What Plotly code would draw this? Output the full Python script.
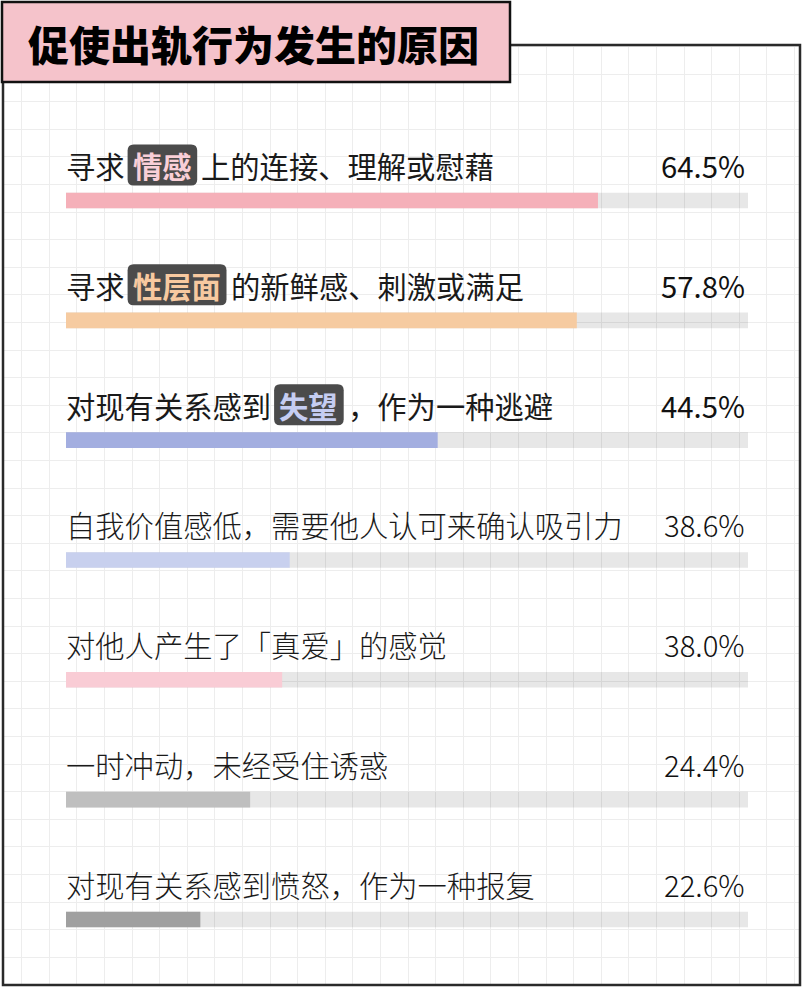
import plotly.graph_objects as go

# --- data -------------------------------------------------------------
title = "促使出轨行为发生的原因"
label_pre = ["寻求", "寻求", "对现有关系感到",
             "自我价值感低，需要他人认可来确认吸引力",
             "对他人产生了「真爱」的感觉",
             "一时冲动，未经受住诱惑",
             "对现有关系感到愤怒，作为一种报复"]
label_key = ["情感", "性层面", "失望", "", "", "", ""]
label_post = ["上的连接、理解或慰藉", "的新鲜感、刺激或满足", "，作为一种逃避", "", "", "", ""]
values = [64.5, 57.8, 44.5, 38.6, 38.0, 24.4, 22.6]
# bar fill as drawn in the picture (share of the grey track)
bar_fill = [78.0, 74.9, 54.5, 32.8, 31.7, 27.0, 19.7]
bar_colors = ["#f5b0b9", "#f6cba1", "#a3aee0", "#c8d0ee", "#f9ccd5", "#bfbfbf", "#a0a0a0"]
key_colors = ["#f9cfd7", "#f7c9a0", "#c5cdf2"]

W, H = 802, 988
FONT = "Noto Sans CJK SC"
FS = 29.3
rows = list(range(len(values)))
row_px = 119.83
label_off = 35.5 / row_px


def px(x):
    return x / W


def py(y):
    return 1 - y / H


fig = go.Figure()

# grid axes (pixel units, inside the frame)
fig.add_trace(go.Scatter(x=[None], y=[None], xaxis="x", yaxis="y",
                         hoverinfo="skip", showlegend=False))

# grey tracks
fig.add_trace(go.Bar(x=[100] * len(rows), y=rows, orientation="h",
                     xaxis="x2", yaxis="y2", width=15.6 / row_px,
                     marker=dict(color="rgba(0,0,0,0.095)", line=dict(width=0)),
                     hoverinfo="skip", showlegend=False))
# coloured fills
fig.add_trace(go.Bar(x=bar_fill, y=rows, orientation="h",
                     xaxis="x2", yaxis="y2", width=15.6 / row_px,
                     marker=dict(color=bar_colors, line=dict(width=0)),
                     hoverinfo="skip", showlegend=False))

annotations = []
shapes = []

# frame and title box
shapes.append(dict(type="rect", xref="paper", yref="paper",
                   x0=px(3), x1=px(800), y0=py(985), y1=py(45),
                   line=dict(color="#2a2a2a", width=2.5), layer="above"))
shapes.append(dict(type="rect", xref="paper", yref="paper",
                   x0=px(2), x1=px(510), y0=py(82), y1=py(2),
                   fillcolor="#f5c3cb", line=dict(color="#111111", width=2.5),
                   layer="above"))
annotations.append(dict(text=title, xref="paper", yref="paper",
                        x=px(254), y=py(43), xanchor="center", yanchor="middle",
                        showarrow=False,
                        font=dict(family=FONT, size=41, color="#000000", weight=900)))


def rounded(x0, x1, h, r):
    return (f"M {x0 + r},{-h} L {x1 - r},{-h} Q {x1},{-h} {x1},{-h + r} "
            f"L {x1},{h - r} Q {x1},{h} {x1 - r},{h} L {x0 + r},{h} "
            f"Q {x0},{h} {x0},{h - r} L {x0},{-h + r} Q {x0},{-h} {x0 + r},{-h} Z")


for i in rows:
    yl = i - label_off
    strong = label_key[i] != ""
    col = "#1a1a1a"
    weight = 400 if strong else 300
    annotations.append(dict(text=label_pre[i], xref="x2", yref="y2", x=0, y=yl,
                            xshift=-1, xanchor="left", yanchor="middle", showarrow=False,
                            borderpad=0,
                            font=dict(family=FONT, size=FS, color=col, weight=weight)))
    if strong:
        pre_w = len(label_pre[i]) * FS
        bx0 = pre_w + 3
        bx1 = bx0 + len(label_key[i]) * FS + 11
        shapes.append(dict(type="path", xref="x2", yref="y2",
                           xsizemode="pixel", ysizemode="pixel",
                           xanchor=0, yanchor=yl,
                           path=rounded(bx0, bx1, 20.5, 6),
                           fillcolor="#4b4b4b", line=dict(width=0), layer="above"))
        annotations.append(dict(text=label_key[i], xref="x2", yref="y2", x=0, y=yl,
                                xshift=(bx0 + bx1) / 2, xanchor="center", yanchor="middle",
                                showarrow=False, borderpad=0,
                                font=dict(family=FONT, size=FS, color=key_colors[i],
                                          weight=700)))
        annotations.append(dict(text=label_post[i], xref="x2", yref="y2", x=0, y=yl,
                                xshift=bx1 + 3, xanchor="left", yanchor="middle",
                                showarrow=False, borderpad=0,
                                font=dict(family=FONT, size=FS, color=col, weight=weight)))
    annotations.append(dict(text=f"{values[i]:.1f}%", xref="x2", yref="y2", x=100, y=yl,
                            xshift=-2, xanchor="right", yanchor="middle", showarrow=False,
                            borderpad=0,
                            font=dict(family=FONT, size=FS, color="#111111",
                                      weight=400 if strong else 300)))

fig.update_layout(
    width=W, height=H,
    margin=dict(l=0, r=0, t=0, b=0),
    paper_bgcolor="white", plot_bgcolor="rgba(0,0,0,0)",
    barmode="overlay",
    xaxis=dict(domain=[px(3), px(800)], range=[3, 800], tick0=21.7, dtick=27.6,
               showgrid=True, gridcolor="#ededed", gridwidth=1, zeroline=False,
               showticklabels=False, ticks="", fixedrange=True),
    yaxis=dict(domain=[py(985), py(45)], range=[985, 45], tick0=18.9, dtick=27.6,
               showgrid=True, gridcolor="#ededed", gridwidth=1, zeroline=False,
               showticklabels=False, ticks="", fixedrange=True),
    xaxis2=dict(domain=[px(66), px(748)], range=[0, 100], anchor="y2",
                showgrid=False, zeroline=False, showticklabels=False, fixedrange=True),
    yaxis2=dict(domain=[0, 1], range=[(H - 200.5) / row_px, -200.5 / row_px],
                anchor="x2", showgrid=False, zeroline=False, showticklabels=False,
                fixedrange=True),
    shapes=shapes,
    annotations=annotations,
)

fig.write_html("out.html", config={"displayModeBar": False},
               post_script="document.body.style.margin='0';")
